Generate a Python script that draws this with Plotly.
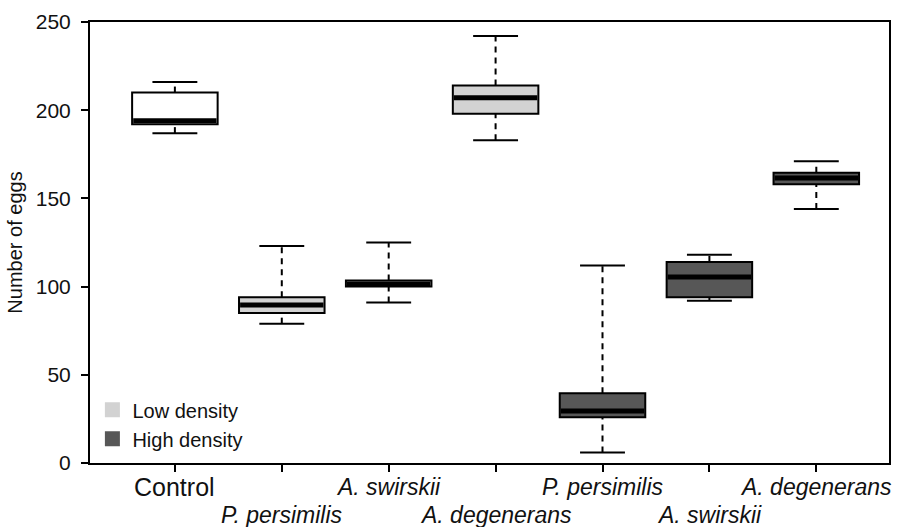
import plotly.graph_objects as go

# ---- data ----
positions = [1, 2, 3, 4, 5, 6, 7]
tick_labels = ["Control", "P. persimilis", "A. swirskii", "A. degenerans",
               "P. persimilis", "A. swirskii", "A. degenerans"]
label_rows = [0, 1, 0, 1, 0, 1, 0]
groups = ["control", "low", "low", "low", "high", "high", "high"]
lower_whisker = [187, 79, 91, 183, 6, 92, 144]
q1 = [192, 85, 100, 198, 26, 94, 158]
median = [194, 89.5, 101.5, 207, 29.5, 105.5, 161.5]
q3 = [210, 94, 103.5, 214, 39.5, 114, 164.5]
upper_whisker = [216, 123, 125, 242, 112, 118, 171]

group_colors = {"control": "#ffffff", "low": "#d2d2d2", "high": "#575757"}
legend_names = {"low": "Low density", "high": "High density"}

BOX_W = 0.8
CAP_W = 0.42

fig = go.Figure()

# boxes (bars from q1 to q3)
for g in ["control", "low", "high"]:
    idx = [i for i, gg in enumerate(groups) if gg == g]
    fig.add_trace(go.Bar(
        x=[positions[i] for i in idx],
        y=[q3[i] - q1[i] for i in idx],
        base=[q1[i] for i in idx],
        width=BOX_W,
        marker=dict(color=group_colors[g], line=dict(color="black", width=2)),
        showlegend=False, hoverinfo="skip",
    ))

# dashed whiskers
wx, wy = [], []
for p, lo, a, b, hi in zip(positions, lower_whisker, q1, q3, upper_whisker):
    wx += [p, p, None, p, p, None]
    wy += [lo, a, None, b, hi, None]
fig.add_trace(go.Scatter(x=wx, y=wy, mode="lines",
                         line=dict(color="black", width=2, dash="6px,5px"),
                         showlegend=False, hoverinfo="skip"))

# whisker caps
cx, cy = [], []
for p, lo, hi in zip(positions, lower_whisker, upper_whisker):
    cx += [p - CAP_W / 2, p + CAP_W / 2, None, p - CAP_W / 2, p + CAP_W / 2, None]
    cy += [lo, lo, None, hi, hi, None]
fig.add_trace(go.Scatter(x=cx, y=cy, mode="lines",
                         line=dict(color="black", width=2),
                         showlegend=False, hoverinfo="skip"))

# medians
mx, my = [], []
for p, m in zip(positions, median):
    mx += [p - BOX_W / 2 + 0.01, p + BOX_W / 2 - 0.01, None]
    my += [m, m, None]
fig.add_trace(go.Scatter(x=mx, y=my, mode="lines",
                         line=dict(color="black", width=5),
                         showlegend=False, hoverinfo="skip"))

# legend entries
for g in ["low", "high"]:
    fig.add_trace(go.Scatter(x=[None], y=[None], mode="markers",
                             marker=dict(symbol="square", size=15,
                                         color=group_colors[g],
                                         line=dict(width=0)),
                             name=legend_names[g]))

# two-row category labels under the ticks
row_y = [-0.054, -0.118]
for i, (p, t, r) in enumerate(zip(positions, tick_labels, label_rows)):
    if i == 0:
        txt, size = t, 25
    else:
        txt, size = "<i>" + t + "</i>", 23
    fig.add_annotation(x=p, xref="x", y=row_y[r], yref="paper",
                       text=txt, showarrow=False, xanchor="center",
                       yanchor="middle", font=dict(size=size, color="#111111"))

fig.update_layout(
    width=899, height=527,
    margin=dict(l=90, r=10, t=22, b=64),
    plot_bgcolor="white", paper_bgcolor="white",
    font=dict(family="Liberation Sans, Arial, sans-serif", color="#111111"),
    barmode="overlay",
    showlegend=True,
    legend=dict(x=0.003, y=0.165, xanchor="left", yanchor="top",
                bgcolor="rgba(0,0,0,0)", font=dict(size=20),
                tracegroupgap=0, itemwidth=30),
    xaxis=dict(range=[0.206, 7.68], tickmode="array", tickvals=positions,
               showticklabels=False, automargin=False,
               ticks="outside", ticklen=7, tickwidth=2, tickcolor="black",
               showline=True, linewidth=2, linecolor="black", mirror=True,
               showgrid=False, zeroline=False),
    yaxis=dict(range=[0, 250], tickvals=[0, 50, 100, 150, 200, 250],
               tickfont=dict(size=21), ticks="outside", ticklen=7,
               ticklabelstandoff=6,
               tickwidth=2, tickcolor="black", automargin=False,
               showline=True, linewidth=2, linecolor="black", mirror=True,
               showgrid=False, zeroline=False,
               title=dict(text="Number of eggs", font=dict(size=20), standoff=8)),
)

fig.write_html("out.html", config={"displayModeBar": False},
               post_script="document.body.style.margin='0';")
